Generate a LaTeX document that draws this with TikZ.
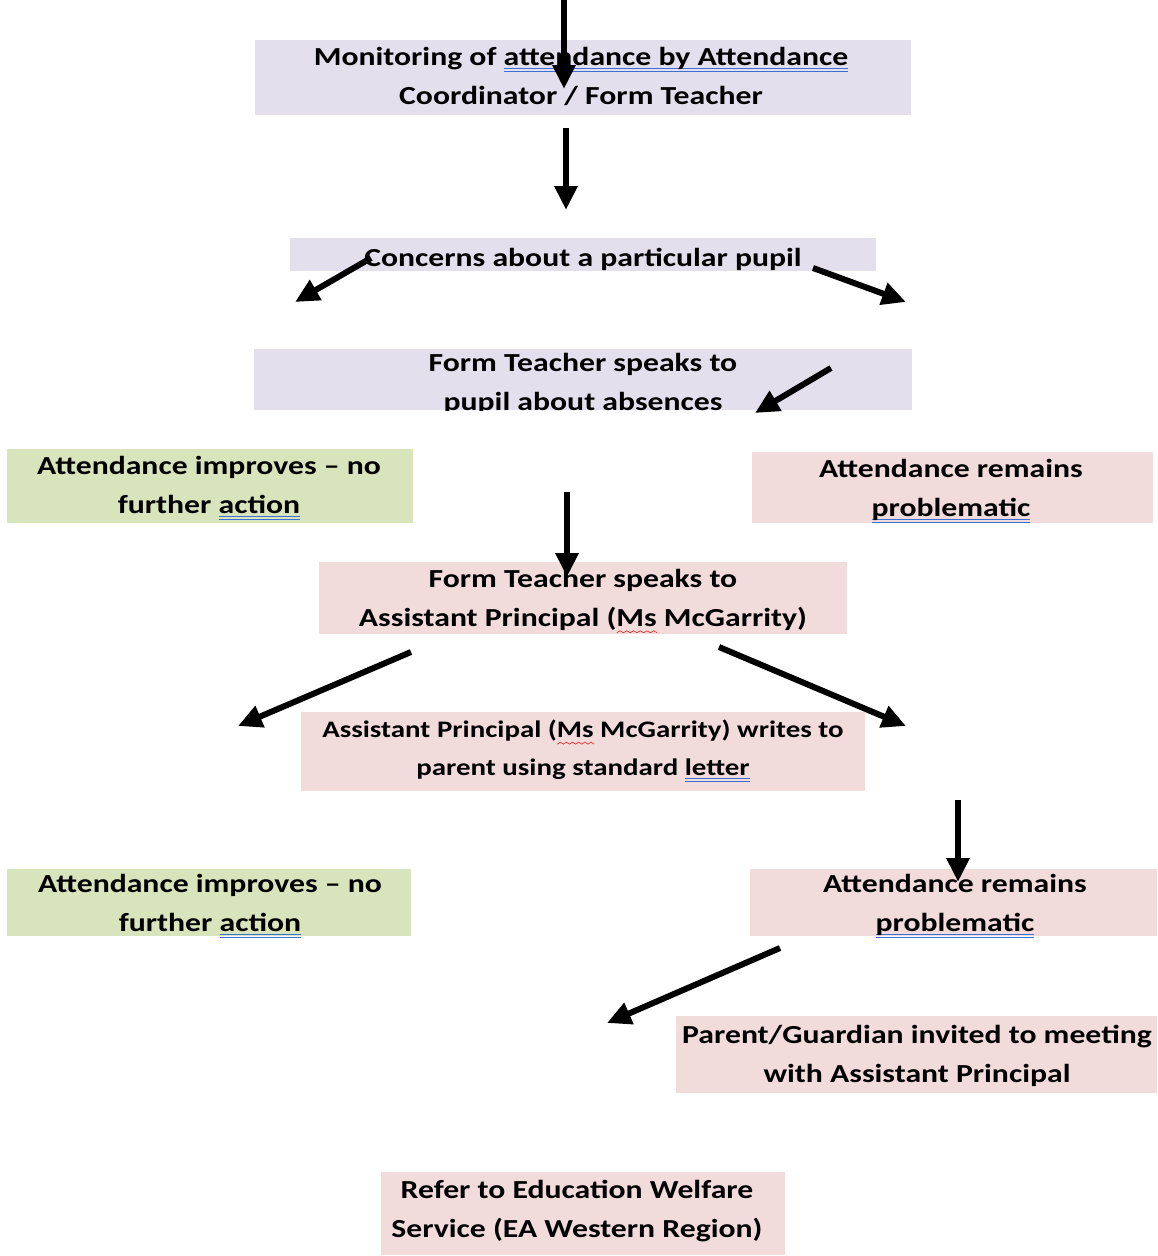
\documentclass[tikz,border=0pt]{standalone}
\usepackage{fontspec}
\setmainfont[FakeStretch=1.22]{Carlito}
\usetikzlibrary{arrows.meta}
\definecolor{lav}{HTML}{E4DFEC}
\definecolor{grn}{HTML}{D8E4BC}
\definecolor{pnk}{HTML}{F2DCDB}
\definecolor{ulblue}{HTML}{3A6FD8}
\definecolor{ulred}{HTML}{E03030}
\newlength\myulw
\newcommand\dblu[1]{\settowidth\myulw{#1}\rlap{\color{ulblue}\rule[-3.8pt]{\myulw}{0.9pt}\hspace{-\myulw}\rule[-6.6pt]{\myulw}{0.9pt}}#1}
\newcommand\wavyu[1]{\settowidth\myulw{#1}\rlap{\raisebox{-7pt}{\tikz[x=1pt,y=1pt]{\draw[ulred,line width=0.7pt] (0,0) \foreach \k in {1,...,12}{ -- ({\k*\myulw/12},{mod(\k,2)*2})};}}}#1}
\tikzset{
  box/.style={inner sep=0pt, align=center, font=\fontsize{26}{39}\selectfont\bfseries},
  boxtext/.style={inner sep=0pt, align=center, font=\fontsize{26}{39}\selectfont\bfseries},
  arr/.style={line width=6pt, -{Triangle[length=24pt,width=22pt]}},
}
\begin{document}
\begin{tikzpicture}[x=1pt,y=-1pt]
\useasboundingbox[fill=white] (0,0) rectangle (1157,1256);
% boxes
\node[box, fill=lav, minimum width=656pt, minimum height=75pt] (mon) at (583,77.5) {};
\node[boxtext] at (581,76) {Monitoring of \dblu{attendance by Attendance}\\Coordinator / Form Teacher};
\node[box, fill=lav, minimum width=586pt, minimum height=33pt] (conc) at (583,254.5) {};
\node[boxtext] at (583,259) {Concerns about a particular pupil};
\node[box, fill=lav, minimum width=658pt, minimum height=61pt,
  path picture={\node[boxtext] at ([yshift=-4pt]path picture bounding box.center) {Form Teacher speaks to\\pupil about absences};}] (ftp) at (583,379.5) {};
\node[box, fill=grn, minimum width=406pt, minimum height=74pt] (imp1) at (210,486) {};
\node[boxtext] at (209,488) {Attendance improves – no\\further \dblu{action}};
\node[box, fill=pnk, minimum width=401pt, minimum height=71pt] (rem1) at (952.5,487.5) {};
\node[boxtext] at (951,491) {Attendance remains\\\dblu{problematic}};
\node[box, fill=pnk, minimum width=528pt, minimum height=72pt] (ftap) at (583,598) {};
\node[boxtext] at (583,601) {Form Teacher speaks to\\Assistant Principal (\wavyu{Ms} McGarrity)};
\node[box, fill=pnk, minimum width=564pt, minimum height=79pt] (apw) at (583,751.5) {};
\node[boxtext, font=\fontsize{23.7}{38}\selectfont\bfseries] at (583,751) {Assistant Principal (\wavyu{Ms} McGarrity) writes to\\parent using standard \dblu{letter}};
\node[box, fill=grn, minimum width=404pt, minimum height=67pt] (imp2) at (209,902.5) {};
\node[boxtext] at (210,906) {Attendance improves – no\\further \dblu{action}};
\node[box, fill=pnk, minimum width=407pt, minimum height=67pt] (rem2) at (953.5,902.5) {};
\node[boxtext] at (955,906) {Attendance remains\\\dblu{problematic}};
\node[box, fill=pnk, minimum width=481pt, minimum height=77pt] (par) at (916.5,1054.5) {};
\node[boxtext] at (917,1056) {Parent/Guardian invited to meeting\\with Assistant Principal};
\node[box, fill=pnk, minimum width=404pt, minimum height=83pt] (ref) at (583,1213.5) {};
\node[boxtext] at (577,1211) {Refer to Education Welfare\\Service (EA Western Region)};
% arrow end points
\coordinate (a1s) at (564,0);   \coordinate (a1e) at (564,89);
\coordinate (a2s) at (566,128); \coordinate (a2e) at (566,210);
\coordinate (a3s) at (371,258); \coordinate (a3e) at (295,302);
\coordinate (a4s) at (813,268); \coordinate (a4e) at (906,302);
\coordinate (a5s) at (831,368); \coordinate (a5e) at (755,413);
\coordinate (a6s) at (567,492); \coordinate (a6e) at (567,577);
\coordinate (a7s) at (411,652); \coordinate (a7e) at (238,726);
\coordinate (a8s) at (719,647); \coordinate (a8e) at (906,726);
\coordinate (a9s) at (958,800); \coordinate (a9e) at (958,882);
\coordinate (a10s) at (780,948); \coordinate (a10e) at (607,1023);
\foreach \i in {1,...,10} {\draw[arr] (a\i s) -- (a\i e);}
\end{tikzpicture}
\end{document}
